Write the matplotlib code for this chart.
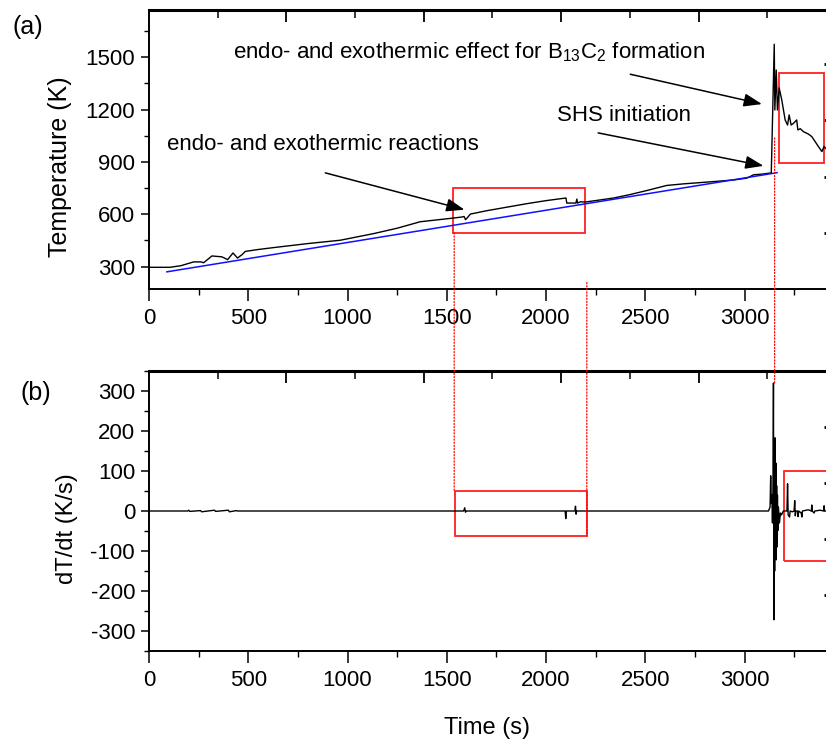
import numpy as np
import matplotlib
matplotlib.use('Agg')
import matplotlib.pyplot as plt
from matplotlib.patches import Rectangle, ConnectionPatch

plt.rcParams['font.family'] = ['Liberation Sans', 'DejaVu Sans']
plt.rcParams['mathtext.fontset'] = 'custom'
plt.rcParams['mathtext.rm'] = 'Liberation Sans'
plt.rcParams['mathtext.it'] = 'Liberation Sans'
plt.rcParams['axes.unicode_minus'] = False

# temperature record (a)
temp_t = [0, 105, 160, 225, 262, 275, 317, 367, 396, 423, 446, 470, 485, 550, 628, 800, 963,
          1131, 1250, 1366, 1532, 1575, 1587, 1594, 1600, 1619, 1700, 1800, 1900, 2000, 2100,
          2104, 2150, 2155, 2158, 2172, 2198, 2260, 2340, 2420, 2508, 2608, 2692, 2843, 2950,
          3011, 3045, 3090, 3128, 3134, 3149, 3152, 3159, 3165, 3174, 3187, 3204, 3216, 3224,
          3234, 3245, 3262, 3268, 3280, 3296, 3320, 3338, 3355, 3370, 3389, 3400, 3410, 3420]
temp = [296, 296, 305, 327, 327, 322, 361, 356, 340, 378, 349, 370, 387, 398, 409, 432, 451,
        489, 520, 557, 578, 584, 587, 569, 576, 601, 620, 640, 660, 678, 693,
        664, 664, 687, 664, 671, 670, 680, 693, 712, 736, 765, 774, 787, 797,
        807, 826, 830, 836, 835, 1574, 1197, 1426, 1197, 1323, 1254, 1140, 1111, 1169,
        1111, 1120, 1140, 1083, 1090, 1073, 1060, 1045, 1016, 990, 959, 988, 975, 985]

# linear baseline (blue)
base_t = [90, 3163]
base_T = [270, 838]

# heating rate (b)
rate_t = [0, 195, 200, 205, 260, 265, 330, 335, 400, 405, 440, 445, 1585, 1590, 1594, 1598,
          2096, 2099, 2102, 2145, 2148, 2151, 2154, 3120, 3128, 3131, 3134, 3137, 3140, 3143,
          3145, 3147, 3149, 3151, 3153, 3155, 3157, 3159, 3161, 3163, 3165, 3167, 3170, 3175,
          3180, 3185, 3195, 3213, 3216, 3219, 3226, 3229, 3240, 3249, 3252, 3255, 3258, 3266,
          3269, 3272, 3285, 3288, 3291, 3320, 3336, 3338, 3340, 3350, 3353, 3380, 3398, 3400,
          3402, 3460]
rate = [0, 0, 2, -1, 1, -2, 2, -1, 2, -2, 1, 0, 0, 8, -3, 0,
        0, -19, 0, 0, 12, -8, 0, 0, 10, 88, 20, 40, -30, 60,
        320, -272, 100, -150, 183, -100, 120, -122, 63, -90, 40, -49, 10, -30,
        -5, -10, 0, 0, 68, -10, -15, 0, -2, 0, 26, -12, 0, 0,
        -14, 0, -5, -15, 0, 3, 0, 15, 0, -5, 0, 2, 0, 13,
        0, 0]

# highlighted regions: (t0, t1, y0, y1)
box_a = [(1532, 2197, 494, 751), (3174, 3400, 896, 1410)]
box_b = [(1542, 2205, -62, 50), (3199, 3600, -125, 99)]

W, H = 826, 745
fig = plt.figure(figsize=(W / 100, H / 100), dpi=100)
L, R = 149, 836
ax1 = fig.add_axes([L / W, 1 - 289.3 / H, (R - L) / W, (289.3 - 10) / H])
ax2 = fig.add_axes([L / W, 1 - 651 / H, (R - L) / W, (651 - 371) / H])

for ax in (ax1, ax2):
    for s in ax.spines.values():
        s.set_linewidth(1.4)
    ax.set_xlim(0, 3460)
    ax.set_xticks(np.arange(0, 3460, 500))
    ax.set_xticks(np.arange(250, 3460, 500), minor=True)
    ax.tick_params(which='major', direction='out', length=6, width=1.1, labelsize=16, pad=4)
    ax.tick_params(which='minor', direction='out', length=3.5, width=1.0)
    ax.tick_params(axis='x', which='major', length=8.5, pad=5)
    ax.tick_params(axis='x', which='minor', length=4.5)
    top = ax.secondary_xaxis('top')
    top.set_xticks(np.arange(692, 3460, 692))
    top.set_xticks(np.arange(346, 3460, 692), minor=True)
    top.tick_params(which='major', direction='in', length=8.5, width=1.3, labeltop=False)
    top.tick_params(which='minor', direction='in', length=6, width=1.1)
    top.spines['top'].set_linewidth(2.2)

ax1.plot(temp_t, temp, color='black', lw=1.0)
ax1.plot(base_t, base_T, color='#1010ff', lw=1.1)
ax1.set_ylim(170, 1770)
ax1.set_yticks([300, 600, 900, 1200, 1500])
ax1.set_yticks(np.arange(150, 1770, 300)[1:], minor=True)
r1 = ax1.secondary_yaxis('right')
r1.set_yticks([494, 814, 1140, 1460])
r1.tick_params(direction='in', length=9, width=2, labelright=False)

ax2.plot(rate_t, rate, color='black', lw=1.0)
ax2.set_ylim(-350, 350)
ax2.set_yticks(np.arange(-300, 301, 100))
ax2.set_yticks(np.arange(-350, 351, 100), minor=True)
r2 = ax2.secondary_yaxis('right')
r2.set_yticks([-210, -70, 70, 210])
r2.tick_params(direction='in', length=9, width=2, labelright=False)

for ax, boxes in ((ax1, box_a), (ax2, box_b)):
    for t0, t1, y0, y1 in boxes:
        ax.add_patch(Rectangle((t0, y0), t1 - t0, y1 - y0, fill=False,
                               edgecolor='#ff2020', lw=1.3, clip_on=True))

# dotted guides linking the panels
for (xa, ya), (xb, yb) in [((1537, 494), (1537, 50)), ((2205, 209), (2205, -62)),
                           ((3151, 1037), (3151, 318))]:
    cp = ConnectionPatch((xa, ya), (xb, yb), coordsA='data', coordsB='data',
                         axesA=ax1, axesB=ax2, color='red', lw=0.9, linestyle=(0, (1, 1.5)))
    fig.add_artist(cp)

arrow = dict(arrowstyle='-|>,head_length=0.55,head_width=0.2', mutation_scale=20,
             color='black', lw=1.1, shrinkA=0, shrinkB=0)
ax1.annotate('', xy=(1589, 626), xytext=(888, 837), arrowprops=arrow)
ax1.annotate('', xy=(3087, 1231), xytext=(2424, 1402), arrowprops=arrow)
ax1.annotate('', xy=(3095, 877), xytext=(2262, 1066), arrowprops=arrow)
ax1.text(91, 969, 'endo- and exothermic reactions', fontsize=16, va='baseline')
ax1.text(423, 1494, 'endo- and exothermic effect for B$_{13}$C$_2$ formation',
         fontsize=16, va='baseline')
ax1.text(2056, 1134, 'SHS initiation', fontsize=16, va='baseline')

fig.text(72 / W, 1 - 167 / H, 'Temperature (K)', rotation=90, fontsize=18,
         ha='right', va='center')
fig.text(78 / W, 1 - 529 / H, 'dT/dt (K/s)', rotation=90, fontsize=17,
         ha='right', va='center')
fig.text(487 / W, 1 - 728 / H, 'Time (s)', fontsize=17, ha='center', va='center')
fig.text(28 / W, 1 - 27 / H, '(a)', fontsize=18, ha='center', va='center')
fig.text(36 / W, 1 - 393 / H, '(b)', fontsize=18, ha='center', va='center')

fig.savefig('out.png', dpi=100)
